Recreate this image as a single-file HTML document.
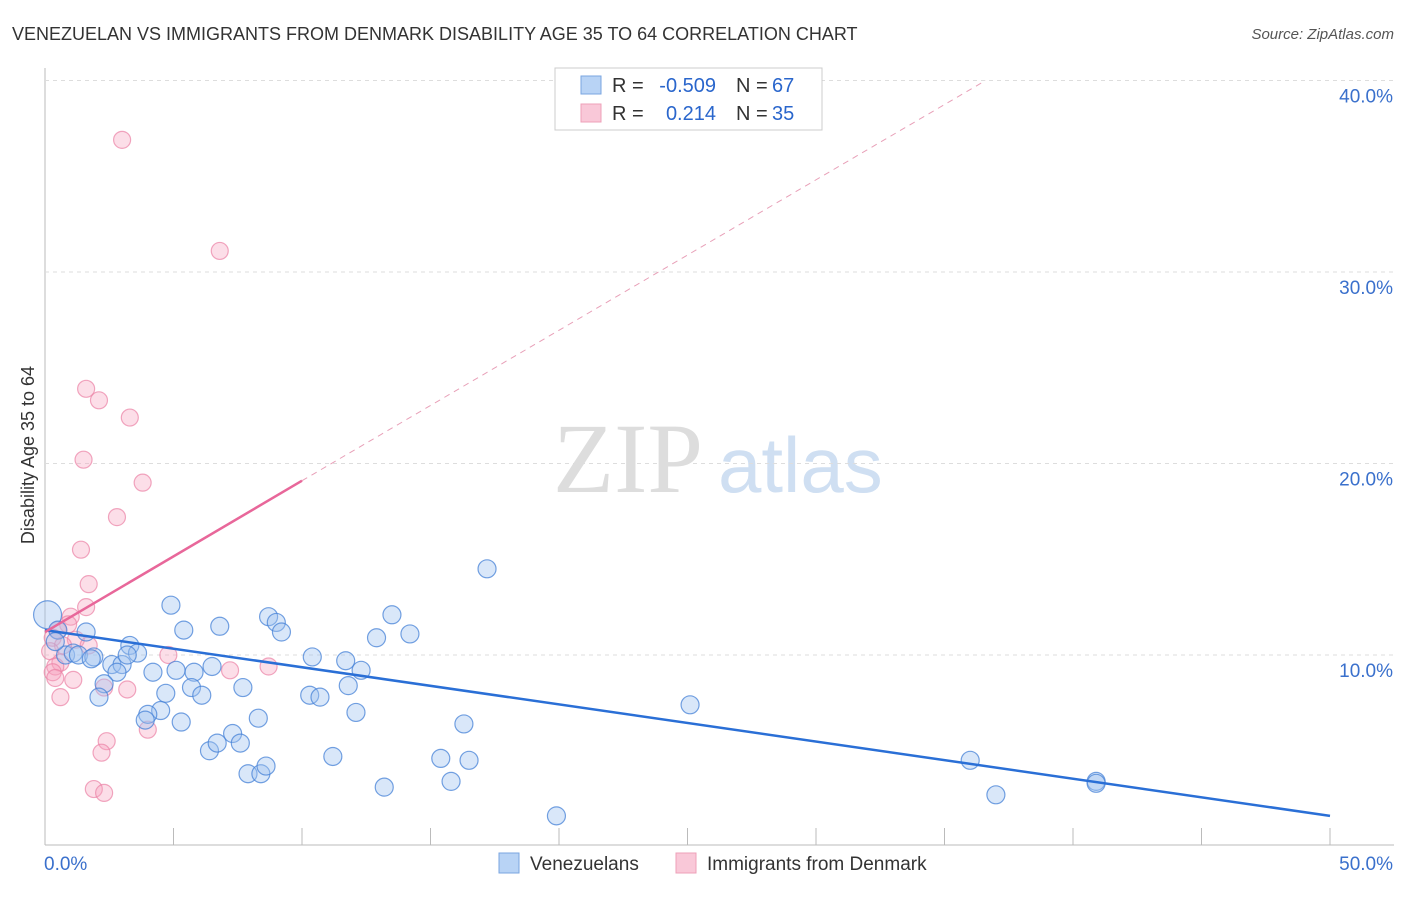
<!DOCTYPE html>
<html><head><meta charset="utf-8"><style>
body{margin:0;background:#fff;font-family:"Liberation Sans",sans-serif}
svg text{font-family:"Liberation Sans",sans-serif}
</style></head><body>
<svg id="c" width="1406" height="892">
<text x="12" y="40" font-size="18" fill="#333">VENEZUELAN VS IMMIGRANTS FROM DENMARK DISABILITY AGE 35 TO 64 CORRELATION CHART</text>
<text x="1394" y="39" font-size="15" fill="#555" font-style="italic" text-anchor="end">Source: ZipAtlas.com</text>
<text x="34" y="455" font-size="18" fill="#333" text-anchor="middle" transform="rotate(-90 34 455)">Disability Age 35 to 64</text>
<text x="553" y="492" font-size="100" fill="#ddd" style="font-family:'Liberation Serif',serif">ZIP</text>
<text x="718" y="492" font-size="78" fill="#cfdff2">atlas</text>
<g id="grid"></g><g id="pts"></g><g id="lines"></g>
<g>
<rect x="555" y="68" width="267" height="62" fill="#fff" stroke="#ccc"/>
<rect x="581" y="76" width="20" height="18" fill="#b8d3f5" stroke="#7aa6e0"/>
<rect x="581" y="104" width="20" height="18" fill="#f9c8d8" stroke="#eea0b8"/>
<text x="612" y="92" font-size="20" fill="#333">R =</text>
<text x="716" y="92" font-size="20" fill="#2a66cc" text-anchor="end">-0.509</text>
<text x="736" y="92" font-size="20" fill="#333">N =</text>
<text x="772" y="92" font-size="20" fill="#2a66cc">67</text>
<text x="612" y="120" font-size="20" fill="#333">R =</text>
<text x="716" y="120" font-size="20" fill="#2a66cc" text-anchor="end">0.214</text>
<text x="736" y="120" font-size="20" fill="#333">N =</text>
<text x="772" y="120" font-size="20" fill="#2a66cc">35</text>
</g>
<g>
<rect x="499" y="853" width="20" height="20" fill="#b8d3f5" stroke="#7aa6e0"/>
<text x="530" y="870" font-size="19" fill="#333">Venezuelans</text>
<rect x="676" y="853" width="20" height="20" fill="#f9c8d8" stroke="#eea0b8"/>
<text x="707" y="870" font-size="19" fill="#333">Immigrants from Denmark</text>
</g>
</svg>
<script>
const yTicks=[10,20,30,40];
const yTickLabels=["10.0%","20.0%","30.0%","40.0%"];
const xTickLabels=["0.0%","50.0%"];
const blueX=[0.1,0.5,1.6,0.8,1.1,1.3,1.9,1.8,0.4,3.3,3.6,2.6,3.0,2.8,3.2,4.2,4.5,4.0,3.9,2.3,2.1,4.7,4.9,5.4,5.1,5.8,5.7,6.1,6.5,6.8,5.3,6.4,6.7,7.3,7.6,7.7,8.3,8.7,9.0,9.2,7.9,8.4,8.6,10.4,10.3,10.7,11.2,11.7,11.8,12.1,12.3,12.9,13.5,14.2,13.2,15.4,15.8,16.5,16.3,17.2,19.9,25.1,36.0,37.0,40.9,40.9];
const blueY=[12.1,11.3,11.2,10.0,10.1,10.0,9.9,9.8,10.7,10.5,10.1,9.5,9.5,9.1,10.0,9.1,7.1,6.9,6.6,8.5,7.8,8.0,12.6,11.3,9.2,9.1,8.3,7.9,9.4,11.5,6.5,5.0,5.4,5.9,5.4,8.3,6.7,12.0,11.7,11.2,3.8,3.8,4.2,9.9,7.9,7.8,4.7,9.7,8.4,7.0,9.2,10.9,12.1,11.1,3.1,4.6,3.4,4.5,6.4,14.5,1.6,7.4,4.5,2.7,3.4,3.3];
const blueR=[14,9,9,9,9,9,9,9,9,9,9,9,9,9,9,9,9,9,9,9,9,9,9,9,9,9,9,9,9,9,9,9,9,9,9,9,9,9,9,9,9,9,9,9,9,9,9,9,9,9,9,9,9,9,9,9,9,9,9,9,9,9,9,9,9,9];
const pinkX=[3.0,6.8,1.6,2.1,3.3,1.5,3.8,2.8,1.4,1.7,1.6,1.0,0.9,0.5,0.3,1.2,1.7,0.7,0.2,0.6,0.4,0.3,0.4,1.1,0.6,2.3,3.2,4.8,7.2,8.7,4.0,2.4,2.2,1.9,2.3];
const pinkY=[36.9,31.1,23.9,23.3,22.4,20.2,19.0,17.2,15.5,13.7,12.5,12.0,11.6,11.3,10.9,10.8,10.5,10.5,10.2,9.6,9.4,9.1,8.8,8.7,7.8,8.3,8.2,10.0,9.2,9.4,6.1,5.5,4.9,3.0,2.8];
const blueTrendX=[0,50], blueTrendY=[11.3,1.6];
const pinkTrendX=[0,10], pinkTrendY=[11.2,19.1], pinkDashX=[10,36.6], pinkDashY=[19.1,40.0];
const X=v=>45+v*25.7, Y=v=>846.5-v*19.15;
const NS="http://www.w3.org/2000/svg";
function mk(p,t,a){const e=document.createElementNS(NS,t);for(const k in a)e.setAttribute(k,a[k]);p.appendChild(e);return e;}
const grid=document.getElementById('grid'),pts=document.getElementById('pts'),lines=document.getElementById('lines');
let ax=mk(grid,'line',{x1:45,y1:68,x2:45,y2:845,stroke:'#bbb'});


let bx=mk(grid,'line',{x1:45,y1:845,x2:1394,y2:845,stroke:'#bbb'});


yTicks.forEach((v,i)=>{
 let g=mk(grid,'line',{x1:45,y1:Y(v),x2:1394,y2:Y(v),stroke:'#ddd','stroke-dasharray':'4,4'});
 
 
 let t=mk(grid,'text',{x:1393,y:Y(v)+22,'font-size':19,fill:'#3a70cc','text-anchor':'end'});t.textContent=yTickLabels[i];
 
 
});
for(let i=1;i<=10;i++){let t=mk(grid,'line',{x1:X(i*5),y1:828,x2:X(i*5),y2:845,stroke:'#bbb'});
 
 }
[[0,'start'],[50,'end']].forEach((d,i)=>{let t=mk(grid,'text',{x:i?1393:44,y:870,'font-size':19,fill:'#3a70cc','text-anchor':d[1]});t.textContent=xTickLabels[i];
 
 });
pinkX.forEach((x,i)=>{let c=mk(pts,'circle',{cx:X(x),cy:Y(pinkY[i]),r:8.5,fill:'rgba(245,160,190,0.35)',stroke:'rgba(235,130,165,0.7)','stroke-width':1.2});
 
 });
blueX.forEach((x,i)=>{let c=mk(pts,'circle',{cx:X(x),cy:Y(blueY[i]),r:blueR[i],fill:'rgba(160,195,240,0.4)',stroke:'rgba(70,130,215,0.75)','stroke-width':1.2});
 
 });
let l1=mk(lines,'line',{x1:X(blueTrendX[0]),y1:Y(blueTrendY[0]),x2:X(blueTrendX[1]),y2:Y(blueTrendY[1]),stroke:'#2a6fd6','stroke-width':2.5});


let l2=mk(lines,'line',{x1:X(pinkTrendX[0]),y1:Y(pinkTrendY[0]),x2:X(pinkTrendX[1]),y2:Y(pinkTrendY[1]),stroke:'#e8679a','stroke-width':2.5});


let l3=mk(lines,'line',{x1:X(pinkDashX[0]),y1:Y(pinkDashY[0]),x2:X(pinkDashX[1]),y2:Y(pinkDashY[1]),stroke:'#e8a0b8','stroke-width':1,'stroke-dasharray':'6,5'});


</script>
</body></html>
